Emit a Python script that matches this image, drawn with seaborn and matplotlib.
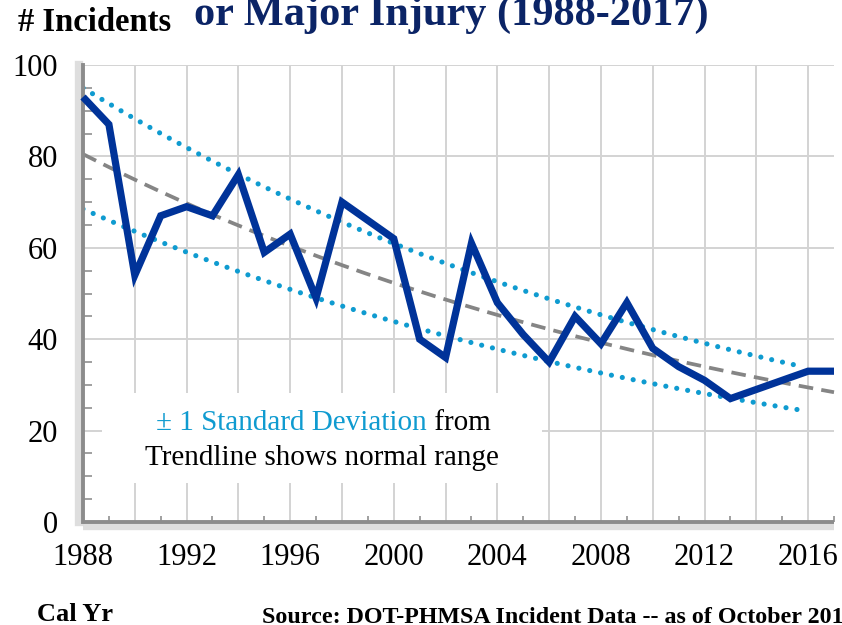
import numpy as np
import pandas as pd
import matplotlib
matplotlib.use("Agg")
import matplotlib.pyplot as plt
import matplotlib.patheffects as pe
from matplotlib.ticker import MultipleLocator, FuncFormatter
from matplotlib.patches import Rectangle
import seaborn as sns

# ---------------- data ----------------
years = list(range(1988, 2018))
incidents = [93, 87, 54, 67, 69, 67, 76, 59, 63, 49,
             70, 66, 62, 40, 36, 61, 48, 41, 35, 45,
             39, 48, 38, 34, 31, 27, 29, 31, 33, 33]

# exponential trendline and +/- 1 SD band, values read at their end points
trend_years = [1988, 2017]
trend_values = [80.5, 28.4]
band_years = [1988, 2015.7]
upper_band = [95.0, 34.1]
lower_band = [68.5, 24.5]

x_label_years = [1988, 1992, 1996, 2000, 2004, 2008, 2012, 2016]
y_tick_values = [0, 20, 40, 60, 80, 100]

title_text = "or Major Injury (1988-2017)"
ylabel_text = "# Incidents"
xlabel_text = "Cal Yr"
source_text = "Source: DOT-PHMSA Incident Data -- as of October 2017"
note_blue = "\u00b1 1 Standard Deviation"
note_black = " from"
note_line2 = "Trendline shows normal range"

# ---------------- style ----------------
sns.set_theme(style="white")
plt.rcParams["font.family"] = ["Liberation Serif", "DejaVu Serif"]

LINE_BLUE = "#003399"
DOT_BLUE = "#0f9bd0"
TITLE_NAVY = "#0b2466"
SPINE_GRAY = "#8c8c8c"
GRID_GRAY = "#d3d3d3"

fig = plt.figure(figsize=(8.42, 6.25), dpi=100)
ax = fig.add_axes([83 / 842, 1 - 522 / 625, (834 - 83) / 842, (522 - 65) / 625])
ax.set_facecolor("white")

df = pd.DataFrame({"year": years, "incidents": incidents})

# curves for trend and bands (exponential between read end points)
ty = np.linspace(trend_years[0], trend_years[1], 200)
tv = np.geomspace(trend_values[0], trend_values[1], 200)
by = np.linspace(band_years[0], band_years[1], 200)
ub = np.geomspace(upper_band[0], upper_band[1], 200)
lb = np.geomspace(lower_band[0], lower_band[1], 200)

# white note box behind text (covers gridlines)
ax.add_patch(Rectangle((1988.73, 8.5), 2005.72 - 1988.73, 28.2 - 8.5,
                       facecolor="white", edgecolor="none", zorder=1.2))

dot_kw = dict(color=DOT_BLUE, linewidth=3.7, linestyle=(0, (0.01, 2.15)),
              dash_capstyle="round", zorder=2)
sns.lineplot(x=by, y=ub, ax=ax, **dot_kw)
sns.lineplot(x=by, y=lb, ax=ax, **dot_kw)
sns.lineplot(x=ty, y=tv, ax=ax, color="#858585", linewidth=2.7,
             linestyle=(0, (3.9, 2.2)), zorder=2.2, clip_on=False)
sns.lineplot(data=df, x="year", y="incidents", ax=ax, color=LINE_BLUE,
             linewidth=5.2, zorder=3, clip_on=False)
for l in ax.lines:
    l.set_solid_joinstyle("miter")
    l.set_solid_capstyle("butt")

# ---------------- axes ----------------
ax.set_xlim(1988, 2017)
ax.set_ylim(0, 100)
ax.set_xlabel("")
ax.set_ylabel("")

ax.xaxis.set_major_locator(MultipleLocator(2))
ax.xaxis.set_minor_locator(MultipleLocator(1))
ax.xaxis.set_major_formatter(FuncFormatter(
    lambda v, p: str(int(round(v))) if int(round(v)) in x_label_years else ""))
ax.set_yticks(y_tick_values)
ax.set_yticklabels([str(v) for v in y_tick_values])
ax.yaxis.set_minor_locator(MultipleLocator(5))

ax.set_axisbelow(True)
ax.grid(True, which="major", color=GRID_GRAY, linewidth=1.4)

ax.tick_params(axis="both", which="major", direction="inout", length=14,
               width=1.6, color=SPINE_GRAY, labelsize=22, labelcolor="black")
ax.tick_params(axis="y", which="major", pad=11)
ax.tick_params(axis="x", which="major", pad=8)
ax.tick_params(axis="x", which="minor", direction="in", length=4.5,
               width=1.3, color="#999999", bottom=True)
ax.tick_params(axis="y", which="minor", direction="in", length=6.5,
               width=1.3, color="#999999", left=True)

for side in ["top", "right"]:
    ax.spines[side].set_visible(False)
ax.spines["left"].set_color(SPINE_GRAY)
ax.spines["left"].set_linewidth(2.8)
ax.spines["left"].set_path_effects([
    pe.SimpleLineShadow(offset=(-3, 0), shadow_color="#c8c8c8", alpha=0.6, linewidth=6),
    pe.Normal()])
ax.spines["bottom"].set_color(SPINE_GRAY)
ax.spines["bottom"].set_linewidth(2.8)
ax.spines["bottom"].set_path_effects([
    pe.SimpleLineShadow(offset=(0, -3), shadow_color="#c8c8c8", alpha=0.6, linewidth=6),
    pe.Normal()])
ax.spines["bottom"].set_capstyle("butt")

# ---------------- note text ----------------
ax.text(2001.28, 20.1, note_blue, color=DOT_BLUE, fontsize=21,
        ha="right", va="baseline", zorder=4)
ax.text(2001.28, 20.1, note_black, color="black", fontsize=21,
        ha="left", va="baseline", zorder=4)
ax.text(1997.23, 12.5, note_line2, color="black", fontsize=21,
        ha="center", va="baseline", zorder=4)

# ---------------- figure texts ----------------
fig.text(451 / 842, 1 - 25 / 625, title_text, color=TITLE_NAVY, fontsize=30.5,
         fontweight="bold", ha="center", va="baseline")
fig.text(18 / 842, 1 - 31 / 625, ylabel_text, color="black", fontsize=23.5,
         fontweight="bold", ha="left", va="baseline")
fig.text(37 / 842, 1 - 621 / 625, xlabel_text, color="black", fontsize=19,
         fontweight="bold", ha="left", va="baseline")
fig.text(262 / 842, 1 - 623 / 625, source_text, color="black", fontsize=17.3,
         fontweight="bold", ha="left", va="baseline")

fig.savefig("out.png", dpi=100, facecolor="white")
